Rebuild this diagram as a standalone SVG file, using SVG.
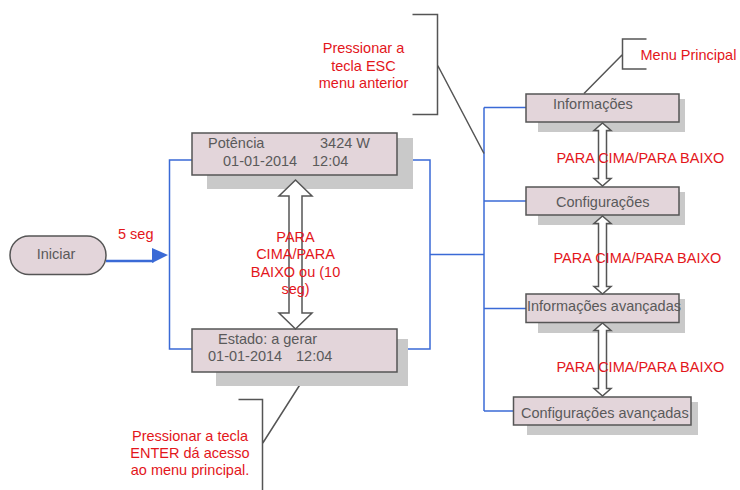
<svg xmlns="http://www.w3.org/2000/svg" width="740" height="490" viewBox="0 0 740 490">
<style>
text{font-family:"Liberation Sans",Arial,sans-serif;font-size:14.5px}
.g{fill:#5a5a5a}
.r{fill:#e3161b}
.box{fill:#e3d5da;stroke:#555;stroke-width:1.5}
.sh{fill:#c9c9c9}
.bl{fill:none;stroke:#3a6ad6;stroke-width:1.5}
.br{fill:none;stroke:#555;stroke-width:1.5}
.arr{fill:#fff;stroke:#555;stroke-width:1.5}
.m{text-anchor:middle}
</style>
<rect width="740" height="490" fill="#fff"/>
<g id="connectors">
<polyline class="bl" points="192,160 169.5,160 169.5,349 192,349"/>
<polyline class="bl" points="397,160 430,160 430,349 408,349"/>
<line class="bl" x1="430" y1="254.5" x2="484" y2="254.5"/>
<line class="bl" x1="484" y1="107.5" x2="484" y2="411"/>
<line class="bl" x1="484" y1="107.5" x2="526" y2="107.5"/>
<line class="bl" x1="484" y1="201" x2="526" y2="201"/>
<line class="bl" x1="484" y1="308.5" x2="526" y2="308.5"/>
<line class="bl" x1="484" y1="411" x2="513" y2="411"/>
<line x1="106" y1="261" x2="154" y2="261" stroke="#3a6ad6" stroke-width="2.5"/>
<polygon points="152,248 168,255 152,263" fill="#3a6ad6"/>
<path class="br" d="M412.5,14.5 H437.5 V114.5 H412.5 M437.5,65 L484,153.5"/>
<path class="br" d="M646.5,39 H622.5 V69 H646.5 M622.5,54.5 L584,93.5"/>
<path class="br" d="M238.5,399.5 H262.5 V490 M262.5,443.5 L301,383"/>
</g>
<g id="potencia">
<rect class="sh" x="207" y="138" width="206" height="51"/>
<rect class="box" x="192" y="133" width="205" height="42"/>
<text class="g" x="208" y="148">Potência</text>
<text class="g" x="320" y="148">3424 W</text>
<text class="g" x="223" y="165.5">01-01-2014</text>
<text class="g" x="312" y="165.5">12:04</text>
</g>
<g id="estado">
<rect class="sh" x="216" y="339" width="192" height="47"/>
<rect class="box" x="192" y="329" width="205" height="43"/>
<text class="g" x="218" y="344">Estado: a gerar</text>
<text class="g" x="208" y="361">01-01-2014</text>
<text class="g" x="296" y="361">12:04</text>
</g>
<g id="iniciar">
<rect x="10" y="236" width="96" height="38.5" rx="19" ry="19" fill="#e3d5da" stroke="#555" stroke-width="1.5"/>
<text class="g m" x="56" y="258.5">Iniciar</text>
</g>
<g id="informacoes">
<rect class="sh" x="538" y="99" width="147" height="33"/>
<rect class="box" x="526" y="94" width="153" height="28"/>
<text class="g" x="553" y="108.5">Informações</text>
</g>
<g id="configuracoes">
<rect class="sh" x="538" y="192" width="147" height="33"/>
<rect class="box" x="526" y="187" width="153" height="28"/>
<text class="g" x="556" y="207">Configurações</text>
</g>
<g id="info-avancadas">
<rect class="sh" x="538" y="299" width="147" height="34"/>
<rect class="box" x="526" y="294" width="153" height="28.5"/>
<text class="g" x="527" y="311">Informações avançadas</text>
</g>
<g id="config-avancadas">
<rect class="sh" x="527" y="402" width="171" height="33"/>
<rect class="box" x="513.5" y="397" width="177.5" height="28"/>
<text class="g" x="521" y="417.5">Configurações avançadas</text>
</g>
<g id="arrows">
<path class="arr" d="M295.5,180 L312,196 L302,196 L302,313 L312,313 L295.5,329 L279,313 L289,313 L289,196 L279,196 Z"/>
<path class="arr" d="M602.5,123 L611,130.5 L606.5,130.5 L606.5,178.5 L611,178.5 L602.5,186 L594,178.5 L598.5,178.5 L598.5,130.5 L594,130.5 Z"/>
<path class="arr" d="M602.5,216 L611,223.5 L606.5,223.5 L606.5,286.5 L611,286.5 L602.5,294 L594,286.5 L598.5,286.5 L598.5,223.5 L594,223.5 Z"/>
<path class="arr" d="M602.5,323 L611,330.5 L606.5,330.5 L606.5,388.5 L611,388.5 L602.5,396 L594,388.5 L598.5,388.5 L598.5,330.5 L594,330.5 Z"/>
</g>
<g id="labels">
<text class="r" x="118" y="239">5 seg</text>
<text class="r m" x="295.5" y="241.5">PARA</text>
<text class="r m" x="295.5" y="259">CIMA/PARA</text>
<text class="r m" x="295.5" y="276.5">BAIXO ou (10</text>
<text class="r m" x="295.5" y="293.5">seg)</text>
<text class="r" x="556.5" y="162.5">PARA CIMA/PARA BAIXO</text>
<text class="r" x="553.5" y="263">PARA CIMA/PARA BAIXO</text>
<text class="r" x="556.5" y="371.5">PARA CIMA/PARA BAIXO</text>
<text class="r" x="640.5" y="59.5">Menu Principal</text>
<text class="r m" x="363.5" y="53">Pressionar a</text>
<text class="r m" x="363.5" y="70.5">tecla ESC</text>
<text class="r m" x="363.5" y="88">menu anterior</text>
<text class="r m" x="190" y="441">Pressionar a tecla</text>
<text class="r m" x="190" y="457.5">ENTER dá acesso</text>
<text class="r m" x="190" y="474.5">ao menu principal.</text>
</g>
</svg>
